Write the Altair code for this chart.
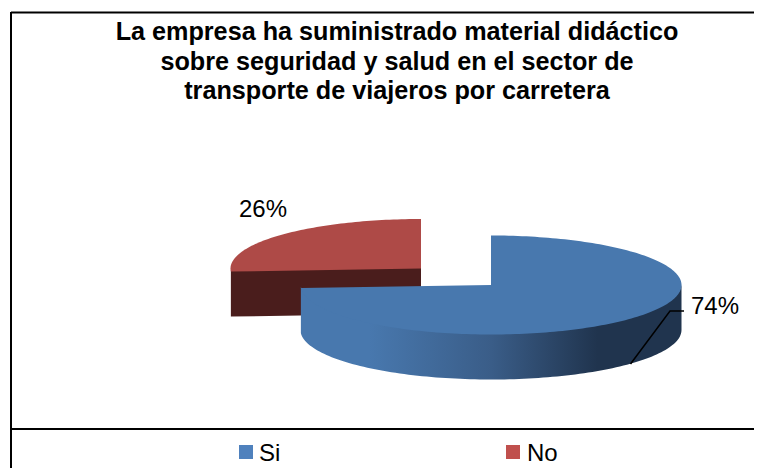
import numpy as np
import pandas as pd
import altair as alt

labels = ["Si", "No"]
shares = [74, 26]
top_colors = ["#4878AE", "#AE4A47"]
legend_colors = ["#4F81BD", "#C0504D"]
label_texts = ["74%", "26%"]
title_lines = ["La empresa ha suministrado material didáctico",
               "sobre seguridad y salud en el sector de",
               "transporte de viajeros por carretera"]

FONT = "Liberation Sans"
W, H = 746, 460
SX = alt.Scale(domain=[8, 754], nice=False, zero=False)
SY = alt.Scale(domain=[468, 8], nice=False, zero=False)
X = alt.X("x:Q", scale=SX, axis=None)
Y = alt.Y("y:Q", scale=SY, axis=None)

A, B, DEPTH = 190.5, 49.5, 45
CS = (491, 285)
CN = (421, 268.5)
OVERLAP = 1.5
cut = 2 * np.pi * shares[0] / 100


def ell(c, t, dy=0):
    return c[0] + A * np.sin(t), c[1] - B * np.cos(t) + dy


def poly(xs, ys):
    return pd.DataFrame({"x": xs, "y": ys, "o": np.arange(len(xs))})


def shape(df, fill):
    return alt.Chart(df).mark_line(fill=fill, strokeWidth=0).encode(
        x=X, y=Y, order="o:Q")


# Red wedge: radial cut face, then top face
t = np.linspace(cut, 2 * np.pi, 80)
ex, ey = ell(CN, t)
red_cut = poly([ex[0], CN[0], CN[0], ex[0]],
               [ey[0] - OVERLAP, CN[1] - OVERLAP, CN[1] + DEPTH, ey[0] + DEPTH])
red_top = poly(np.r_[ex, CN[0]], np.r_[ey, CN[1]])

# Blue wedge: outer side, then top face
t = np.linspace(np.pi / 2, cut, 120)
sx, sy = ell(CS, t)
blue_side = poly(np.r_[sx, sx[::-1]], np.r_[sy - OVERLAP, sy[::-1] + DEPTH])
t = np.linspace(0, cut, 200)
ex, ey = ell(CS, t)
blue_top = poly(np.r_[CS[0], ex], np.r_[CS[1], ey])

side_fill = alt.Gradient(
    gradient="linear", x1=1, x2=0, y1=0, y2=0,
    stops=[
        alt.GradientStop(color="#20344E", offset=0),
        alt.GradientStop(color="#20344E", offset=0.22),
        alt.GradientStop(color="#3A5D88", offset=0.5),
        alt.GradientStop(color="#4878AE", offset=0.82),
        alt.GradientStop(color="#4878AE", offset=1),
    ],
)

border_h = pd.DataFrame({"x": [11, 11], "x2": [754, 754], "y": [12.5, 429]})
border_v = pd.DataFrame({"x": [11], "y": [12], "y2": [468]})
borders = [
    alt.Chart(border_h).mark_rule(color="#000000", strokeWidth=2).encode(
        x=X, x2="x2:Q", y=Y),
    alt.Chart(border_v).mark_rule(color="#000000", strokeWidth=2).encode(
        x=X, y=Y, y2="y2:Q"),
]

leader = alt.Chart(poly([630.5, 670, 684], [364, 311, 311])).mark_line(
    color="#000000", strokeWidth=1.5).encode(x=X, y=Y, order="o:Q")

data_labels = alt.Chart(pd.DataFrame({
    "x": [691, 239], "y": [307, 210], "t": label_texts,
})).mark_text(font=FONT, fontSize=24, align="left", baseline="middle", color="#000000").encode(
    x=X, y=Y, text="t:N")

legend_df = pd.DataFrame({
    "x": [246, 513], "tx": [259, 527], "y": [452, 452], "lab": labels,
})
swatches = alt.Chart(legend_df).mark_point(shape="square", filled=True, size=196, opacity=1).encode(
    x=X, y=Y,
    color=alt.Color("lab:N", scale=alt.Scale(domain=labels, range=legend_colors), legend=None))
legend_text = alt.Chart(legend_df).mark_text(
    font=FONT, fontSize=24, align="left", baseline="middle", dy=2, color="#000000").encode(
    x=alt.X("tx:Q", scale=SX, axis=None), y=Y, text="lab:N")

chart = alt.layer(
    *borders,
    shape(red_cut, "#4A1D1C"),
    shape(red_top, top_colors[1]),
    shape(blue_side, side_fill),
    shape(blue_top, top_colors[0]),
    leader,
    data_labels,
    swatches,
    legend_text,
).properties(
    width=W, height=H,
    padding=0,
    autosize=alt.AutoSizeParams(type="none"),
    background="#FFFFFF",
    title=alt.TitleParams(
        text=title_lines, font=FONT, fontSize=25.2, fontWeight="bold", color="#000000",
        lineHeight=29.5, anchor="middle", baseline="top", dx=16, dy=96.5, orient="top", offset=0,
    ),
).configure_view(stroke=None)

chart.save("out.html", embed_options={"renderer": "svg", "actions": False})
